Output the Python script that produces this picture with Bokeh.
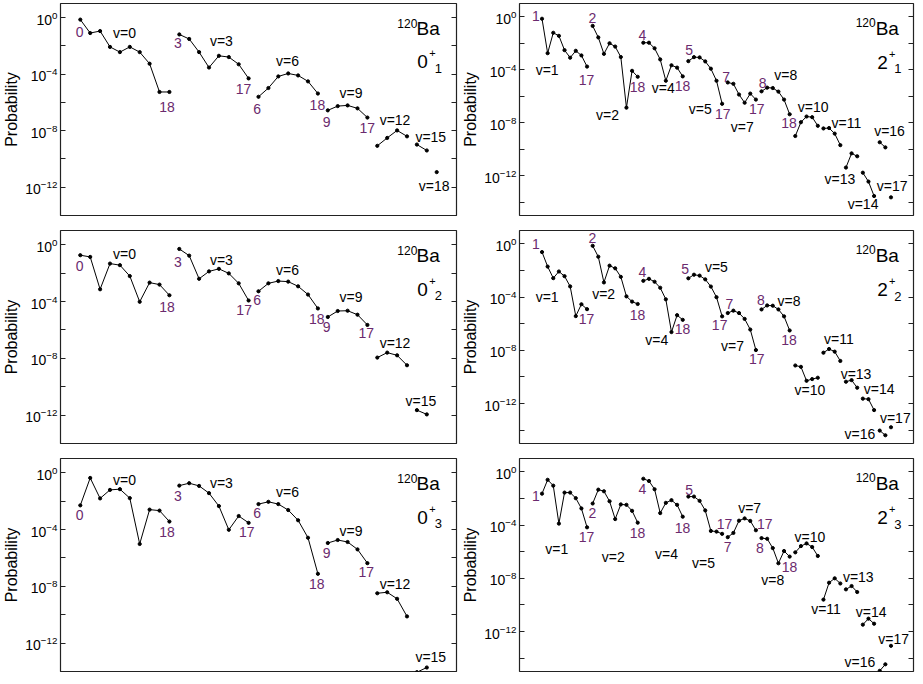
from bokeh.plotting import figure
from bokeh.models import (ColumnDataSource, FixedTicker, LogAxis, CustomJSTickFormatter,
                          LogTickFormatter, Range1d)
from bokeh.layouts import column, row
from bokeh.core.properties import value
from bokeh.embed import file_html
from bokeh.resources import INLINE

FONT = "Liberation Sans"
PURPLE = "#6b2a6e"

# ---------------- data: log10(probability), one list per v-band ----------------
v_01 = [0, 3, 6, 9, 12, 15, 18]
logP_01 = [
    [-0.14, -1.09, -0.95, -2.07, -2.44, -2.07, -2.44, -3.26, -5.26, -5.26],
    [-1.19, -1.51, -2.44, -3.53, -2.70, -2.79, -3.30, -4.30],
    [-5.60, -4.98, -4.16, -3.95, -4.09, -4.51, -5.37],
    [-6.56, -6.26, -6.21, -6.42, -7.07],
    [-9.07, -8.51, -7.98, -8.40],
    [-8.98, -9.40],
    [-10.93],
]
v_02 = [0, 3, 6, 9, 12, 15]
logP_02 = [
    [-0.74, -0.86, -3.14, -1.33, -1.44, -2.21, -4.02, -2.67, -2.81, -3.56],
    [-0.30, -0.77, -2.40, -1.88, -1.70, -2.02, -2.72, -3.93],
    [-3.28, -2.72, -2.56, -2.60, -2.93, -3.51, -4.49],
    [-5.09, -4.67, -4.65, -4.93, -5.65],
    [-7.95, -7.60, -7.79, -8.49],
    [-11.65, -11.95],
]
v_03 = [0, 3, 6, 9, 12, 15]
logP_03 = [
    [-2.30, -0.37, -1.81, -1.21, -1.16, -1.79, -5.02, -2.60, -2.67, -3.44],
    [-0.91, -0.74, -0.93, -1.44, -2.35, -4.02, -3.05, -3.53],
    [-2.21, -2.05, -2.21, -2.63, -3.35, -4.58, -7.12],
    [-4.95, -4.74, -4.88, -5.40, -6.37],
    [-8.49, -8.42, -8.88, -10.12],
    [-14.05, -13.72],
]
v_2 = [1, 2, 4, 5, 7, 8, 10, 11, 13, 14, 16, 17]
logP_21 = [
    [-0.15, -2.75, -1.21, -1.44, -2.52, -3.09, -2.57, -2.92, -3.76],
    [-0.69, -1.56, -2.80, -2.00, -2.25, -3.04, -6.86, -4.08, -4.53],
    [-1.96, -1.96, -2.38, -3.22, -4.83, -3.66, -3.84, -4.50],
    [-3.35, -3.05, -3.07, -3.37, -3.92, -4.83, -6.57],
    [-4.96, -5.06, -5.87, -6.49, -5.80, -6.25],
    [-5.63, -5.35, -5.38, -5.65, -6.25, -7.36],
    [-9.00, -7.96, -7.53, -7.58, -8.23],
    [-8.43, -8.40, -8.82, -9.69],
    [-11.38, -10.31, -10.53],
    [-11.77, -12.44, -13.53],
    [-9.47, -9.86],
    [-13.63],
]
logP_22 = [
    [-0.62, -1.71, -2.58, -2.08, -2.43, -3.20, -5.43, -4.54, -4.91],
    [-0.15, -0.97, -2.90, -1.64, -1.84, -2.48, -3.95, -4.34, -4.52],
    [-2.78, -2.63, -2.85, -3.30, -4.17, -6.63, -5.36, -5.71],
    [-2.59, -2.32, -2.39, -2.67, -3.21, -4.01, -5.45],
    [-5.20, -5.02, -5.20, -5.64, -6.44, -7.98],
    [-4.93, -4.63, -4.65, -4.93, -5.45, -6.51],
    [-9.14, -9.24, -10.29, -10.16, -10.06],
    [-8.18, -7.90, -8.10, -8.80],
    [-10.36, -10.24, -10.81],
    [-11.63, -11.67, -12.49],
    [-14.03, -14.38],
    [-13.78],
]
logP_23 = [
    [-1.64, -0.60, -1.04, -3.89, -1.56, -1.56, -1.98, -2.75, -4.17],
    [-2.38, -1.34, -1.46, -2.21, -3.55, -2.45, -2.48, -2.93, -3.82],
    [-0.52, -0.69, -1.31, -3.10, -2.33, -2.13, -2.48, -3.37],
    [-1.86, -1.86, -2.18, -2.90, -4.44, -4.49, -4.66],
    [-4.91, -4.59, -3.67, -3.50, -3.69, -4.39],
    [-4.98, -5.03, -5.73, -6.87, -5.95, -6.37],
    [-6.05, -5.58, -5.38, -5.65, -6.32],
    [-9.60, -8.33, -8.00, -8.39],
    [-8.83, -8.58, -9.03],
    [-11.48, -11.03, -11.41],
    [-14.95, -14.46],
    [-13.07],
]

# ---------------- annotation texts (text, x position, log10 y position) ----------------
labels_01 = [
    ("0", -0.07, -1.05), ("v=0", 4.47, -1.12), ("18", 8.75, -6.35),
    ("3", 9.87, -1.81), ("v=3", 14.25, -1.62), ("17", 16.49, -5.02),
    ("6", 17.87, -6.47), ("v=6", 20.93, -3.10), ("18", 23.95, -6.19),
    ("9", 24.88, -7.40), ("v=9", 27.34, -5.30), ("17", 28.98, -7.82),
    ("v=12", 31.79, -7.22), ("v=15", 35.40, -8.44), ("v=18", 35.74, -11.89),
]
labels_02 = [
    ("0", -0.07, -1.49), ("v=0", 4.47, -0.67), ("18", 8.75, -4.40),
    ("3", 9.87, -1.21), ("v=3", 14.25, -1.07), ("17", 16.55, -4.58),
    ("6", 17.87, -3.88), ("v=6", 20.93, -1.79), ("18", 23.89, -5.21),
    ("9", 24.88, -5.83), ("v=9", 27.34, -3.70), ("17", 28.88, -6.25),
    ("v=12", 31.79, -6.95), ("v=15", 34.41, -11.03),
]
labels_03 = [
    ("0", -0.07, -2.96), ("v=0", 4.47, -0.52), ("18", 8.75, -4.19),
    ("3", 9.87, -1.61), ("v=3", 14.25, -0.70), ("17", 16.81, -4.17),
    ("6", 17.87, -2.84), ("v=6", 20.93, -1.33), ("18", 23.89, -7.84),
    ("9", 24.88, -5.68), ("v=9", 27.34, -4.12), ("17", 28.88, -6.98),
    ("v=12", 31.79, -7.84), ("v=15", 35.40, -12.96),
]
labels_21 = [
    ("1", -1.08, 0.04), ("v=1", 0.91, -4.03), ("17", 7.90, -4.77),
    ("2", 8.93, -0.06), ("v=2", 11.63, -7.40), ("18", 16.96, -5.29),
    ("4", 17.82, -1.38), ("v=4", 21.53, -5.41), ("18", 24.97, -5.22),
    ("5", 26.12, -2.49), ("v=5", 28.13, -6.95), ("17", 32.13, -7.32),
    ("7", 32.70, -4.52), ("v=7", 35.57, -8.31), ("17", 38.14, -6.95),
    ("8", 39.18, -4.97), ("v=8", 43.30, -4.42), ("18", 43.87, -7.99),
    ("v=10", 48.16, -6.78), ("v=11", 54.07, -7.99), ("v=16", 61.74, -8.64),
    ("v=13", 52.92, -12.28), ("v=14", 57.04, -14.14), ("v=17", 62.20, -12.77),
]
labels_22 = [
    ("1", -1.08, 0.02), ("v=1", 0.91, -4.02), ("17", 7.90, -5.63),
    ("2", 8.93, 0.44), ("v=2", 10.95, -3.77), ("18", 16.96, -5.33),
    ("4", 17.82, -2.11), ("v=4", 20.40, -7.24), ("18", 24.97, -6.37),
    ("5", 25.43, -1.91), ("v=5", 30.98, -1.72), ("17", 31.56, -6.13),
    ("7", 33.28, -4.51), ("v=7", 33.85, -7.67), ("17", 38.14, -8.65),
    ("8", 38.88, -4.19), ("v=8", 43.87, -4.27), ("18", 43.87, -7.24),
    ("v=10", 47.59, -10.96), ("v=11", 52.75, -7.12), ("v=13", 55.79, -9.77),
    ("v=14", 59.91, -10.88), ("v=17", 62.77, -13.12), ("v=16", 56.48, -14.30),
]
labels_23 = [
    ("1", -1.08, -1.81), ("v=1", 2.63, -5.78), ("17", 7.90, -4.88),
    ("2", 8.93, -3.10), ("v=2", 12.66, -6.37), ("18", 16.96, -4.59),
    ("4", 17.82, -1.32), ("v=4", 22.11, -6.15), ("18", 24.97, -4.22),
    ("5", 26.12, -1.37), ("v=5", 28.69, -6.82), ("17", 32.42, -3.90),
    ("7", 32.99, -5.63), ("v=7", 36.89, -2.73), ("17", 39.57, -3.90),
    ("8", 38.71, -5.70), ("v=8", 41.01, -8.13), ("18", 43.99, -7.14),
    ("v=10", 47.59, -4.88), ("v=11", 50.46, -10.33), ("v=13", 56.19, -7.93),
    ("v=14", 58.47, -10.53), ("v=17", 62.49, -12.57), ("v=16", 56.48, -14.30),
]

EMPTY_JS = 'return "";'


def style_ticks(ax):
    ax.axis_line_color = None
    ax.major_tick_in = 5
    ax.major_tick_out = 0
    ax.minor_tick_in = 5
    ax.minor_tick_out = 0
    ax.major_tick_line_color = "#222222"
    ax.minor_tick_line_color = "#222222"


def make_panel(logP, labels, state_digit, state_sub, x_lo, x_hi, y_lo, width, height,
               mb_left, mb_right, mb_top, mb_bottom, left_col):
    p = figure(width=width, height=height, y_axis_type="log",
               x_range=Range1d(x_lo, x_hi), y_range=Range1d(y_lo, 1e1),
               x_axis_location=None, output_backend="svg", toolbar_location=None,
               min_border_left=mb_left, min_border_right=mb_right,
               min_border_top=mb_top, min_border_bottom=mb_bottom)
    p.grid.visible = False
    p.outline_line_color = "#222222"
    p.outline_line_width = 1.2
    p.background_fill_color = "white"
    p.border_fill_color = "white"

    ax = p.yaxis[0]
    ax.ticker = FixedTicker(ticks=[1e0, 1e-4, 1e-8, 1e-12],
                            minor_ticks=[1e-2, 1e-6, 1e-10, 1e-14])
    ax.formatter = LogTickFormatter()
    ax.axis_label = "Probability"
    ax.axis_label_text_font = FONT
    ax.axis_label_text_font_style = "normal"
    ax.axis_label_text_font_size = "16px"
    ax.axis_label_text_color = "black"
    ax.axis_label_standoff = 2
    ax.major_label_text_font = FONT
    ax.major_label_text_font_size = "14px"
    ax.major_label_text_color = "black"
    ax.major_label_standoff = 3
    style_ticks(ax)

    rax = LogAxis(ticker=FixedTicker(ticks=[1e0, 1e-4, 1e-8, 1e-12],
                                     minor_ticks=[1e-2, 1e-6, 1e-10, 1e-14]),
                  formatter=CustomJSTickFormatter(code=EMPTY_JS),
                  major_label_standoff=0, major_label_text_font_size="10px")
    style_ticks(rax)
    p.add_layout(rax, "right")

    # sequential positions along the horizontal axis, band after band
    xs, ys, fx, fy = [], [], [], []
    i = 0
    for seg in logP:
        sx = list(range(i, i + len(seg)))
        sy = [10.0 ** v for v in seg]
        xs.append(sx)
        ys.append(sy)
        fx += sx
        fy += sy
        i += len(seg)
    p.multi_line(xs, ys, line_color="black", line_width=1)
    p.scatter(fx, fy, size=3.2, color="black")

    src = ColumnDataSource(dict(
        x=[l[1] for l in labels],
        y=[10.0 ** l[2] for l in labels],
        text=[l[0] for l in labels],
        color=["black" if l[0].startswith("v=") else PURPLE for l in labels],
    ))
    p.text(x="x", y="y", text="text", source=src, text_color="color",
           text_font=value(FONT), text_font_size=value("14px"),
           text_align="center", text_baseline="middle")

    # nucleus and state labels
    if left_col:
        u = 1.0 / 10.13
        d = 1.0 / 14.33
        xb, yb = 35.14, -0.78
        x120, y120 = 33.03, -0.38
        xs0, ys0 = 34.58, -3.12
    else:
        u = 1.0 / 5.82
        d = 1.0 / 13.45
        xb, yb = 61.34, -0.90
        x120, y120 = 57.5, -0.40
        xs0, ys0 = 60.48, -3.45
    common = dict(text_font=value(FONT), text_color="black", text_align="center",
                  text_baseline="middle")
    p.text(x=[xb], y=[10 ** yb], text=["Ba"], text_font_size=value("19px"), **common)
    p.text(x=[x120], y=[10 ** y120], text=["120"], text_font_size=value("12px"), **common)
    p.text(x=[xs0], y=[10 ** ys0], text=[state_digit], text_font_size=value("19px"), **common)
    p.text(x=[xs0 + 10 * u], y=[10 ** (ys0 + 8.4 * d)], text=["+"],
           text_font_size=value("11px"), **common)
    p.text(x=[xs0 + 16 * u], y=[10 ** (ys0 - 6.6 * d)], text=[state_sub],
           text_font_size=value("13px"), **common)
    return p


LW, RW = 459, 456
# (figure height, top border, bottom border) per row
rows_cfg = [(227, 3, 12), (227, 3, 11), (222, 4, 5)]
left_data = [(logP_01, labels_01, "1"), (logP_02, labels_02, "2"), (logP_03, labels_03, "3")]
right_data = [(logP_21, labels_21, "1"), (logP_22, labels_22, "2"), (logP_23, labels_23, "3")]

rows = []
for (h, mt, mb), (lp, ll, ls), (rp, rl, rs) in zip(rows_cfg, left_data, right_data):
    pl = make_panel(lp, ll, "0", ls, -2, 38, 1e-14, LW, h, 54, 3, mt, mb, True)
    pr = make_panel(rp, rl, "2", rs, -4, 66, 1e-15, RW, h, 53, 2, mt, mb, False)
    rows.append(row(pl, pr))

layout = column(*rows)

with open("out.html", "w", encoding="utf-8") as f:
    f.write(file_html(layout, INLINE))
